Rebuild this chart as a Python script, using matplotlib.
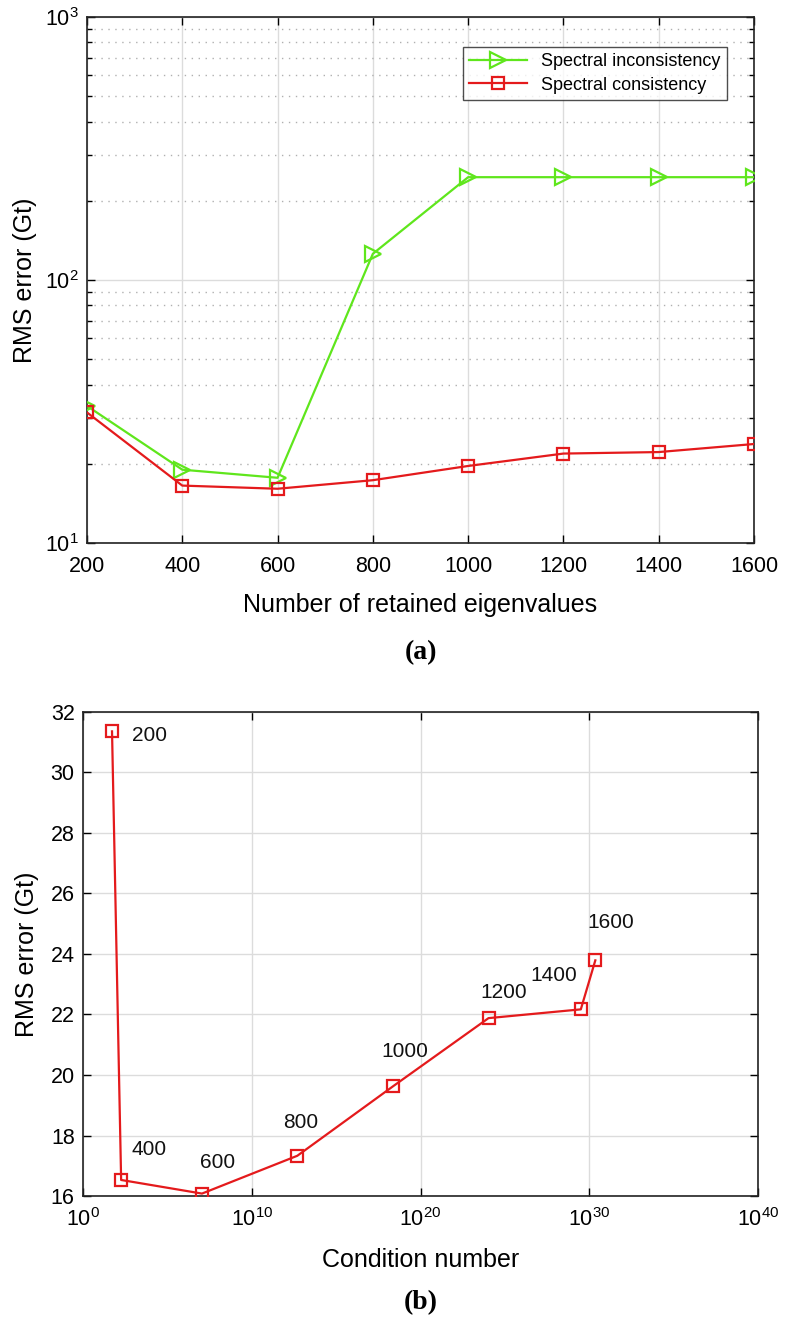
import matplotlib
matplotlib.use("Agg")
import matplotlib.pyplot as plt
from matplotlib.ticker import LogLocator, FixedLocator, NullFormatter

plt.rcParams['font.family'] = ['Liberation Sans', 'DejaVu Sans']
plt.rcParams['mathtext.fontset'] = 'custom'
plt.rcParams['mathtext.rm'] = 'Liberation Sans'

# ---- data ----
eigenvalues = [200, 400, 600, 800, 1000, 1200, 1400, 1600]
rms_inconsistency = [33.2, 19.0, 17.7, 125.8, 246, 246, 246, 246]
rms_consistency = [31.36, 16.53, 16.08, 17.33, 19.63, 21.88, 22.17, 23.79]
log10_condition = [1.72, 2.26, 7.05, 12.70, 18.38, 24.03, 29.50, 30.36]
point_labels = ['200', '400', '600', '800', '1000', '1200', '1400', '1600']
label_offsets_px = [(20, -4), (10, 30), (-2, 31), (-14, 33), (-12, 35), (-8, 26), (-50, 34), (-8, 38)]

xticks_a = [200, 400, 600, 800, 1000, 1200, 1400, 1600]
xticks_b = [1e0, 1e10, 1e20, 1e30, 1e40]
xticklabels_b = [r'$10^{0}$', r'$10^{10}$', r'$10^{20}$', r'$10^{30}$', r'$10^{40}$']
yticks_b = [16, 18, 20, 22, 24, 26, 28, 30, 32]

GREEN = '#5fe61c'
RED = '#e41a1c'
GRID = '#dcdcdc'

fig = plt.figure(figsize=(7.86, 13.22), dpi=100)
W, H = 786, 1322

def axes_px(l, t, r, b):
    return fig.add_axes([l / W, 1 - b / H, (r - l) / W, (b - t) / H])

TICK_FS = 15.5
LABEL_FS = 18

# ---- panel (a) ----
ax1 = axes_px(87, 17, 754, 543)
ax1.plot(eigenvalues, rms_inconsistency, color=GREEN, lw=1.6, marker='>',
         ms=12, mfc='none', mec=GREEN, mew=1.6, label='Spectral inconsistency', zorder=3)
ax1.plot(eigenvalues, rms_consistency, color=RED, lw=1.6, marker='s',
         ms=8.5, mfc='none', mec=RED, mew=1.6, label='Spectral consistency', zorder=3)
ax1.set_yscale('log')
ax1.set_xlim(200, 1600)
ax1.set_ylim(10, 1000)
ax1.set_xticks(xticks_a)
ax1.set_xticklabels([str(v) for v in xticks_a])
ax1.yaxis.set_major_locator(LogLocator(base=10, numticks=10))
ax1.yaxis.set_minor_locator(LogLocator(base=10, subs=[2, 3, 4, 5, 6, 7, 8, 9], numticks=10))
ax1.yaxis.set_minor_formatter(NullFormatter())
ax1.grid(True, which='major', axis='both', color=GRID, lw=1.0, ls='-')
ax1.grid(True, which='minor', axis='y', color='#b0b0b0', lw=1.0, ls=(0, (1, 4)))
ax1.set_axisbelow(True)
ax1.tick_params(which='both', direction='in', top=True, right=True, labelsize=TICK_FS)
ax1.tick_params(which='major', length=6, width=1)
ax1.tick_params(which='minor', length=3.5, width=1)
ax1.tick_params(axis='x', pad=9)
ax1.tick_params(axis='y', pad=6)
ax1.set_xlabel('Number of retained eigenvalues', fontsize=LABEL_FS, labelpad=12)
ax1.set_ylabel('RMS error (Gt)', fontsize=LABEL_FS, labelpad=6)
for s in ax1.spines.values():
    s.set_color('#222222')
    s.set_linewidth(1.2)
leg = ax1.legend(loc='upper right', bbox_to_anchor=(0.973, 0.96), fontsize=13,
                 frameon=True, fancybox=False, edgecolor='#222222',
                 handlelength=3.2, borderpad=0.35, labelspacing=0.35)
leg.get_frame().set_linewidth(1.0)
fig.text((87 + 754) / 2 / W, 1 - 653 / H, '(a)', ha='center', va='center',
         fontsize=20, fontweight='bold', family='Liberation Serif')

# ---- panel (b) ----
ax2 = axes_px(83, 712, 758, 1196)
cond = [10 ** v for v in log10_condition]
ax2.plot(cond, rms_consistency, color=RED, lw=1.6, marker='s',
         ms=8.5, mfc='none', mec=RED, mew=1.6, zorder=3)
for xv, yv, lab, (dx, dy) in zip(cond, rms_consistency, point_labels, label_offsets_px):
    ax2.annotate(lab, (xv, yv), xytext=(dx, dy), textcoords='offset pixels',
                 fontsize=15, ha='left', va='center', color='#111111')
ax2.set_xscale('log')
ax2.set_xlim(1e0, 1e40)
ax2.set_ylim(16, 32)
ax2.xaxis.set_major_locator(FixedLocator(xticks_b))
ax2.set_xticklabels(xticklabels_b)
ax2.xaxis.set_minor_locator(FixedLocator([]))
ax2.set_yticks(yticks_b)
ax2.set_yticklabels([str(v) for v in yticks_b])
ax2.grid(True, which='major', color=GRID, lw=1.0, ls='-')
ax2.set_axisbelow(True)
ax2.tick_params(which='both', direction='in', top=True, right=True, labelsize=TICK_FS, length=6, width=1)
ax2.tick_params(axis='x', pad=9)
ax2.tick_params(axis='y', pad=6)
ax2.set_xlabel('Condition number', fontsize=LABEL_FS, labelpad=12)
ax2.set_ylabel('RMS error (Gt)', fontsize=LABEL_FS, labelpad=8)
for s in ax2.spines.values():
    s.set_color('#222222')
    s.set_linewidth(1.2)
fig.text((83 + 758) / 2 / W, 1 - 1303 / H, '(b)', ha='center', va='center',
         fontsize=20, fontweight='bold', family='Liberation Serif')

fig.savefig('out.png', dpi=100)
